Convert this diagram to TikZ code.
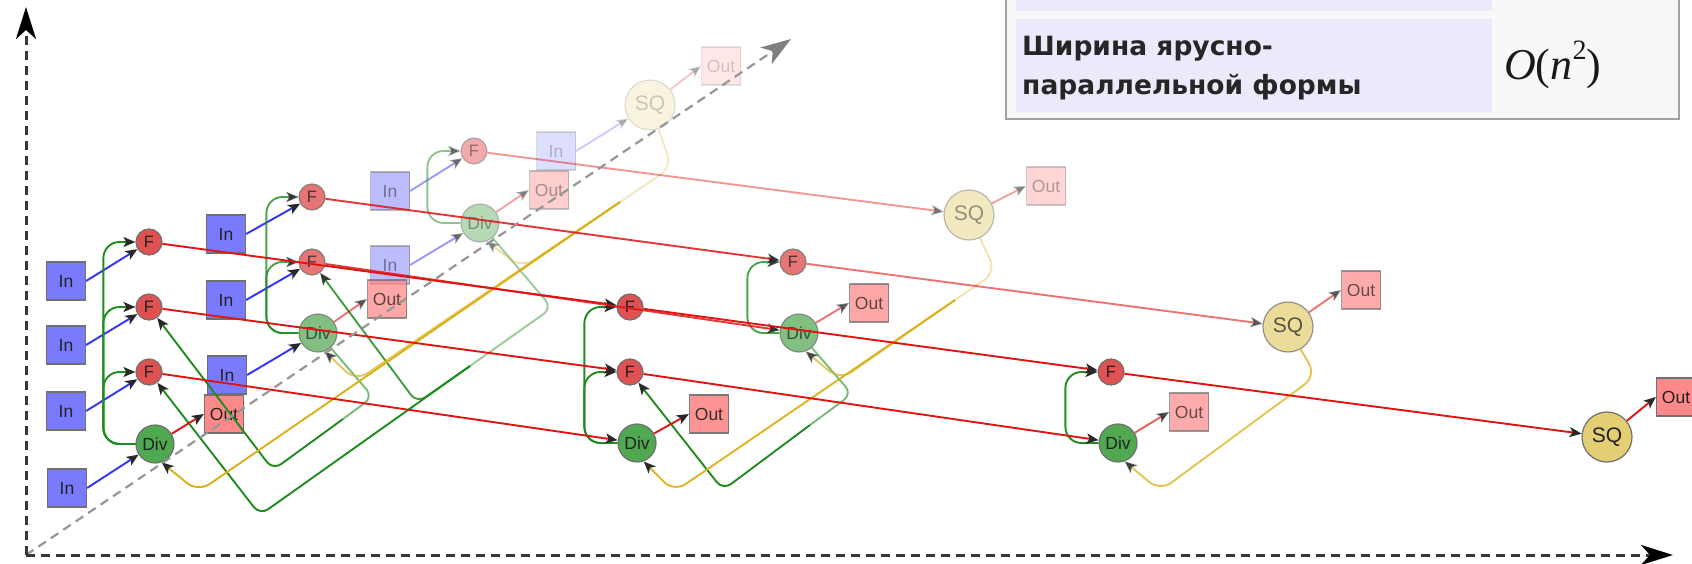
\documentclass[tikz,border=0pt]{standalone}
\usepackage{fontspec}
\setmainfont{Liberation Sans}
\newfontfamily\tabfont{DejaVu Sans}
\newfontfamily\serifmath{Liberation Serif}
\usetikzlibrary{arrows.meta}

\definecolor{inblue}{RGB}{122,122,255}
\definecolor{fred}{RGB}{224,82,82}
\definecolor{divgreen}{RGB}{80,168,80}
\definecolor{outpink}{RGB}{255,136,136}
\definecolor{sqgold}{RGB}{228,206,116}
\definecolor{nodeline}{RGB}{112,112,112}
\definecolor{nodetext}{RGB}{34,34,34}
\definecolor{lblue}{RGB}{50,50,255}
\definecolor{lgreen}{RGB}{30,140,30}
\definecolor{lred}{RGB}{225,20,20}
\definecolor{lgold}{RGB}{218,176,24}
\definecolor{tipgray}{RGB}{40,40,40}
\definecolor{axisgray}{RGB}{55,55,55}
\definecolor{diaggray}{RGB}{150,150,150}
\definecolor{tabbg}{RGB}{248,248,248}
\definecolor{cellblue}{RGB}{234,234,250}
\definecolor{tabline}{RGB}{162,162,162}

\begin{document}
\begin{tikzpicture}[x=1pt,y=-1pt,
  nd/.style={draw=nodeline, line width=1.2pt, text=nodetext, inner sep=0pt},
  inbox/.style={nd, rectangle, fill=inblue, minimum width=39pt, minimum height=38pt, font=\fontsize{17.5}{17.5}\selectfont},
  outbox/.style={nd, rectangle, fill=outpink, minimum width=39pt, minimum height=38pt, font=\fontsize{17.5}{17.5}\selectfont},
  fnode/.style={nd, circle, fill=fred, minimum size=26pt, font=\fontsize{16.5}{16.5}\selectfont},
  divnode/.style={nd, circle, fill=divgreen, minimum size=38pt, font=\fontsize{17.5}{17.5}\selectfont},
  sqnode/.style={nd, circle, fill=sqgold, minimum size=50pt, font=\fontsize{21}{21}\selectfont},
  seg/.style={line width=1.9pt},
  edge/.style={seg, -{Stealth[length=12pt,width=10pt,inset=3pt,color=tipgray]}},
  eblue/.style={edge, draw=lblue},
  egreen/.style={edge, draw=lgreen},
  cgreen/.style={egreen, rounded corners=16pt},
  ered/.style={edge, draw=lred},
  egold/.style={edge, draw=lgold, rounded corners=14pt},
  sgold/.style={seg, draw=lgold, rounded corners=14pt},
  sgreen/.style={seg, draw=lgreen, rounded corners=10pt},
  lgr/.style={egreen, rounded corners=10pt},
  axis/.style={draw=axisgray, line width=3pt, dash pattern=on 9pt off 6pt,
    -{Stealth[length=32pt,width=20pt,inset=9pt,color=black]}},
  diag/.style={draw=diaggray, line width=2.2pt, dash pattern=on 9pt off 6pt,
    -{Stealth[length=30pt,width=20pt,inset=8pt,color=gray]}}
]
\useasboundingbox (0,0) rectangle (1692,564);
\clip (0,0) rectangle (1692,564);

% ---------- table fragment ----------
\fill[tabbg] (1006,-4) rectangle (1679,119);
\fill[cellblue] (1016,-4) rectangle (1492,11);
\fill[cellblue] (1016,19) rectangle (1492,112);
\draw[tabline, line width=2pt] (1006,-4) -- (1006,119) -- (1679,119) -- (1679,-4);
\node[anchor=base west, inner sep=0pt, text=black!85,
  font=\tabfont\bfseries\fontsize{26.5}{26.5}\selectfont] (t1) at (1022,56) {Ширина ярусно-};
\node[anchor=base west, inner sep=0pt, text=black!85,
  font=\tabfont\bfseries\fontsize{26.5}{26.5}\selectfont] (t2) at (1022,95) {параллельной формы};
\node[anchor=base west, inner sep=0pt, text=black!90,
  font=\serifmath\fontsize{44}{44}\selectfont] (t3) at (1504,80)
  {\textit{O}(\textit{n}\raisebox{20pt}{\fontsize{28}{28}\selectfont 2})};

% ---------- step 0 ----------
% layer 3
\node[inbox, opacity=.25] (In31) at (556,151) {In};
\node[sqnode, opacity=.22] (S3) at (650,105) {SQ};
\node[outbox, opacity=.2] (O3) at (721,66) {Out};
% layer 2
\node[inbox, opacity=.5] (In21) at (390,191) {In};
\node[inbox, opacity=.5] (In22) at (390,265) {In};
\node[fnode, opacity=.48] (F21) at (474,151) {F};
\node[divnode, opacity=.42] (D2) at (480,223) {Div};
\node[outbox, opacity=.4] (O2) at (549,190) {Out};
% layer 1
\node[inbox] (In11) at (226,234) {In};
\node[inbox] (In12) at (226,300) {In};
\node[inbox] (In13) at (227,375) {In};
\node[fnode, opacity=.8] (F11) at (312,197) {F};
\node[fnode, opacity=.8] (F12) at (312,262) {F};
\node[divnode, opacity=.72] (D1) at (318,333) {Div};
\node[outbox, opacity=.75] (O1) at (387,299) {Out};
% layer 0
\node[inbox] (In01) at (66,281) {In};
\node[inbox] (In02) at (66,345) {In};
\node[inbox] (In03) at (66,411) {In};
\node[inbox] (In04) at (67,488) {In};
\node[fnode] (F01) at (149,242) {F};
\node[fnode] (F02) at (149,307) {F};
\node[fnode] (F03) at (149,372) {F};
\node[divnode] (D0) at (155,444) {Div};
\node[outbox] (O0) at (224,414) {Out};

% ---------- step 1 ----------
\node[sqnode, opacity=.45] (S2) at (969,215) {SQ};
\node[outbox, opacity=.35] (P2) at (1046,186) {Out};
\node[fnode, opacity=.8] (G11) at (793,262) {F};
\node[divnode, opacity=.72] (E1) at (799,333) {Div};
\node[outbox, opacity=.75] (P1) at (869,303) {Out};
\node[fnode] (G01) at (630,307) {F};
\node[fnode] (G02) at (630,372) {F};
\node[divnode] (E0) at (637,443) {Div};
\node[outbox, opacity=.9] (P0) at (709,414) {Out};

% ---------- step 2 ----------
\node[sqnode, opacity=.72] (S1) at (1288,327) {SQ};
\node[outbox, opacity=.7] (Q1) at (1361,290) {Out};
\node[fnode] (H01) at (1111,372) {F};
\node[divnode] (K0) at (1118,443) {Div};
\node[outbox, opacity=.7] (Q0) at (1189,412) {Out};

% ---------- step 3 ----------
\node[sqnode] (S0) at (1607,437) {SQ};
\node[outbox] (R0) at (1676,397) {Out};

% ---------- inputs ----------
\draw[eblue] (In01.east) -- (F01);
\draw[eblue] (In02.east) -- (F02);
\draw[eblue] (In03.east) -- (F03);
\draw[eblue] (In04.east) -- (D0);
\draw[eblue] (In11.east) -- (F11);
\draw[eblue] (In12.east) -- (F12);
\draw[eblue] (In13.east) -- (D1);
\draw[eblue, opacity=.5] (In21.east) -- (F21);
\draw[eblue, opacity=.5] (In22.east) -- (D2);
\draw[eblue, opacity=.25] (In31.east) -- (S3);

% ---------- Div -> F inside a layer ----------
\draw[cgreen] (D0.west) -- ++(-32,0) |- (F01.west);
\draw[cgreen] (D0.west) -- ++(-32,0) |- (F02.west);
\draw[cgreen] (D0.west) -- ++(-32,0) |- (F03.west);
\draw[cgreen, opacity=.8] (D1.west) -- ++(-32,0) |- (F11.west);
\draw[cgreen, opacity=.8] (D1.west) -- ++(-32,0) |- (F12.west);
\draw[cgreen, opacity=.5] (D2.west) -- ++(-33,0) |- (F21.west);
\draw[cgreen] (E0.west) -- ++(-33,0) |- (G01.west);
\draw[cgreen] (E0.west) -- ++(-33,0) |- (G02.west);
\draw[cgreen, opacity=.8] (E1.west) -- ++(-32,0) |- (G11.west);
\draw[cgreen] (K0.west) -- ++(-33,0) |- (H01.west);

% ---------- Div -> F across layers ----------
\coordinate (J1) at (343,419);
\draw[sgreen, opacity=.6] (D1) -- (373,397) -- (J1);
\draw[lgr] (J1) -- (273,470) -- (F02);
\coordinate (J2) at (470,366);
\draw[sgreen, opacity=.45] (D2) -- (552,308) -- (J2);
\draw[lgr, opacity=.85] (J2) -- (417,403) -- (F12);
\draw[lgr] (J2) -- (260,515) -- (F03);
\coordinate (J3) at (810,425);
\draw[sgreen, opacity=.6] (E1) -- (852,394) -- (J3);
\draw[lgr] (J3) -- (723,490) -- (G02);

% ---------- SQ -> Div ----------
\coordinate (T0) at (620,202);
\draw[sgold, opacity=.3] (S3) -- (672,167) -- (T0);
\draw[egold] (T0) -- (198,492) -- (D0.290);
\draw[egold, opacity=.7] (T0) -- (356,381) -- (D1.290);
\draw[egold, opacity=.4] (T0) -- (522,268) -- (D2.290);
\coordinate (T1) at (955,300);
\draw[sgold, opacity=.35] (S2) -- (996,272) -- (T1);
\draw[egold, opacity=.95] (T1) -- (674,492) -- (E0.290);
\draw[egold, opacity=.7] (T1) -- (840,380) -- (E1.290);
\draw[egold, opacity=.75] (S1) -- (1316,376) -- (1160,491) -- (K0.290);

% ---------- results ----------
\draw[ered] (D0) -- (O0.west);
\draw[ered, opacity=.6] (D1) -- (O1.west);
\draw[ered, opacity=.4] (D2) -- (O2.west);
\draw[ered, opacity=.25] (S3) -- (O3.west);
\draw[ered] (E0) -- (P0.west);
\draw[ered, opacity=.6] (E1) -- (P1.west);
\draw[ered, opacity=.4] (S2) -- (P2.west);
\draw[ered, opacity=.7] (K0) -- (Q0.west);
\draw[ered, opacity=.6] (S1) -- (Q1.west);
\draw[ered] (S0) -- (R0.west);

% ---------- F -> next step ----------
\draw[ered] (F01) -- (G01);
\draw[ered] (F02) -- (G02);
\draw[ered] (F03) -- (E0);
\draw[ered, opacity=.85] (F11) -- (G11);
\draw[ered, opacity=.85] (F12) -- (E1);
\draw[ered, opacity=.45] (F21) -- (S2);
\draw[ered] (G01) -- (H01);
\draw[ered] (G02) -- (K0);
\draw[ered, opacity=.6] (G11) -- (S1);
\draw[ered] (H01) -- (S0);

% ---------- axes ----------
\coordinate (org) at (26,555);
\coordinate (ytip) at (26,7);
\coordinate (xtip) at (1673,555);
\coordinate (ztip) at (791,39);
\draw[diag] (org) -- (ztip);
\draw[axis] (org) -- (ytip);
\draw[axis] (org) -- (xtip);
\end{tikzpicture}
\end{document}
